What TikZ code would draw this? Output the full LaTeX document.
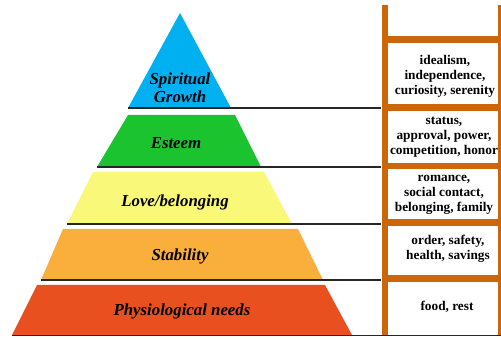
\documentclass[tikz,border=0pt]{standalone}
\usepackage{fontspec}
\setmainfont{Liberation Serif}
\definecolor{cblue}{RGB}{0,176,240}
\definecolor{cgreen}{RGB}{27,196,47}
\definecolor{cyellow}{RGB}{250,248,120}
\definecolor{corange}{RGB}{250,174,59}
\definecolor{cred}{RGB}{232,80,32}
\definecolor{rail}{RGB}{204,102,10}
\begin{document}
\begin{tikzpicture}[x=1pt,y=-1pt,
  level/.style={font=\fontsize{16.8}{19}\selectfont\bfseries\itshape,align=center,inner sep=0pt},
  need/.style={font=\fontsize{13.3}{15}\selectfont\bfseries,align=center,inner sep=0pt},
  sep/.style={draw=black!85,line width=1.3pt}]
\useasboundingbox (0,0) rectangle (501,339);
% pyramid levels
\fill[cblue] (180,13) -- (231,108) -- (128,108) -- cycle;
\fill[cgreen] (128,115) -- (235,115) -- (261,167) -- (97,167) -- cycle;
\fill[cyellow] (93,172) -- (264,172) -- (292,224) -- (67,224) -- cycle;
\fill[corange] (63,229) -- (298,229) -- (323,280) -- (41,280) -- cycle;
\fill[cred] (37,285) -- (325,285) -- (352,335) -- (12,335) -- cycle;
% labels
\node[level] (l1) at (180,88) {Spiritual\\[-1pt]Growth};
\node[level] (l2) at (176,143) {Esteem};
\node[level] (l3) at (175,202) {Love/belonging};
\node[level] (l4) at (180,256) {Stability};
\node[level] (l5) at (182,311) {Physiological needs};
% ladder
\fill[rail] (382,5) rectangle (388,335);
\fill[rail] (498,5) rectangle (501,335);
\fill[rail] (382,36) rectangle (501,43);
\fill[rail] (382,104) rectangle (501,111);
\fill[rail] (382,163) rectangle (501,169);
\fill[rail] (382,219) rectangle (501,226);
\fill[rail] (382,275) rectangle (501,282);
% separator lines
\coordinate (s1a) at (128,108); \coordinate (s1b) at (381,108);
\coordinate (s2a) at (97,167); \coordinate (s2b) at (381,167);
\coordinate (s3a) at (67,224); \coordinate (s3b) at (381,224);
\coordinate (s4a) at (41,280); \coordinate (s4b) at (381,280);
\coordinate (s5a) at (12,335); \coordinate (s5b) at (501,335);
\draw[sep] (s1a) -- (s1b);
\draw[sep] (s2a) -- (s2b);
\draw[sep] (s3a) -- (s3b);
\draw[sep] (s4a) -- (s4b);
\draw[sep,line width=1pt] (s5a) -- (s5b);
% needs
\node[need] (n1) at (445,76) {idealism,\\independence,\\curiosity, serenity};
\node[need] (n2) at (444,137) {status,\\approval, power,\\competition, honor};
\node[need] (n3) at (444,195) {romance,\\social contact,\\belonging, family};
\node[need] (n4) at (448,249) {order, safety,\\health, savings};
\node[need] (n5) at (447,307) {food, rest};
\end{tikzpicture}
\end{document}
